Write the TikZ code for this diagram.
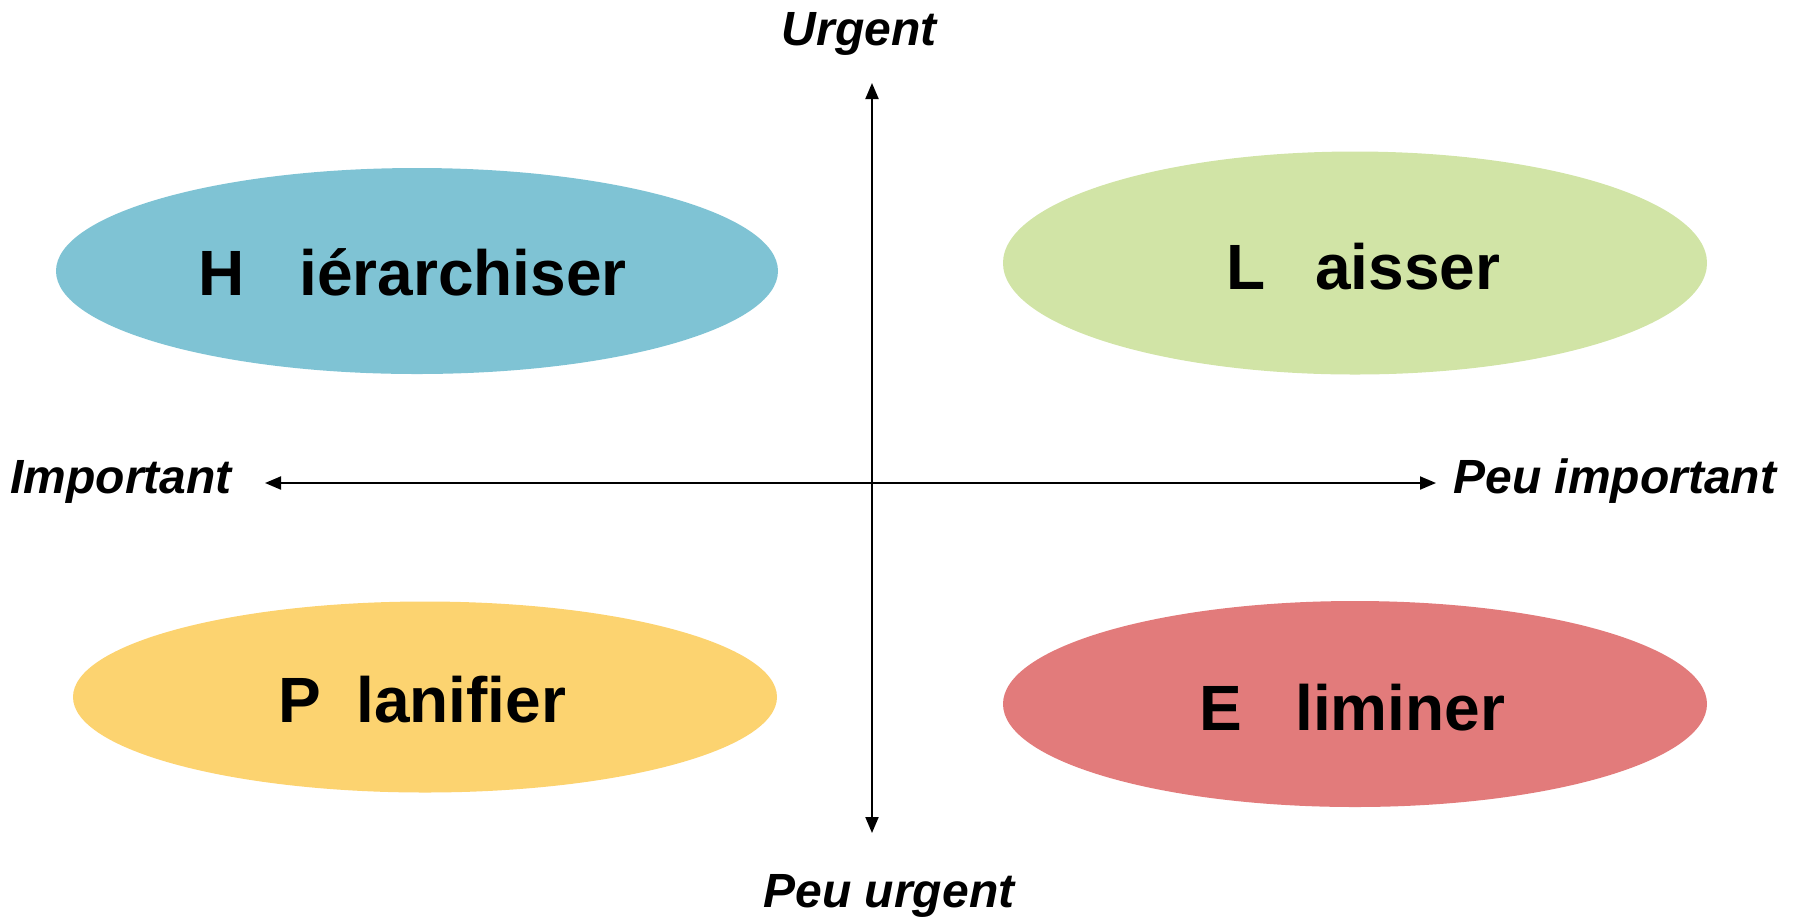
\documentclass[tikz,border=0pt]{standalone}
\usepackage{fontspec}
\setmainfont{Liberation Sans}
\usetikzlibrary{shapes.geometric,arrows.meta}
\definecolor{cblue}{RGB}{127,195,212}
\definecolor{cgreen}{RGB}{209,228,166}
\definecolor{cyellow}{RGB}{252,211,112}
\definecolor{cred}{RGB}{226,123,123}
\begin{document}
\begin{tikzpicture}[x=0.5pt,y=-0.5pt,
  blob/.style={ellipse,draw=none,inner sep=0pt,outer sep=0pt},
  word/.style={inner sep=0pt,anchor=base west,font=\fontsize{32}{36}\selectfont\bfseries},
  axlabel/.style={inner sep=0pt,font=\fontsize{24}{28}\selectfont\bfseries\itshape},
  axis/.style={line width=1pt,{Triangle[length=8pt,width=6.5pt]}-{Triangle[length=8pt,width=6.5pt]}}]
\useasboundingbox (0,0) rectangle (1801,918);
% ellipses
\node[blob,fill=cblue,minimum width=361pt,minimum height=103pt] (hier) at (417,271) {};
\node[blob,fill=cgreen,minimum width=352pt,minimum height=111.5pt] (lais) at (1355,263) {};
\node[blob,fill=cyellow,minimum width=352pt,minimum height=95.5pt] (plan) at (425,697) {};
\node[blob,fill=cred,minimum width=352pt,minimum height=103pt] (elim) at (1355,704) {};
% texts
\node[word] (hL) at (198,295) {H};
\node[word] (hW) at (299,295) {iérarchiser};
\node[word] (lL) at (1226,289) {L};
\node[word] (lW) at (1315,289) {aisser};
\node[word] (pL) at (278,722) {P};
\node[word] (pW) at (356,722) {lanifier};
\node[word] (eL) at (1199,730) {E};
\node[word] (eW) at (1295,730) {liminer};
% axes
\coordinate (top) at (872,83);
\coordinate (bot) at (872,833);
\coordinate (left) at (265,483);
\coordinate (right) at (1436,483);
\draw[axis] (top) -- (bot);
\draw[axis] (left) -- (right);
% axis labels
\node[axlabel,anchor=base] (urg) at (859,45) {Urgent};
\node[axlabel,anchor=base] (purg) at (889,907) {Peu urgent};
\node[axlabel,anchor=base west] (imp) at (10,493) {Important};
\node[axlabel,anchor=base west] (pimp) at (1453,493) {Peu important};
\end{tikzpicture}
\end{document}
